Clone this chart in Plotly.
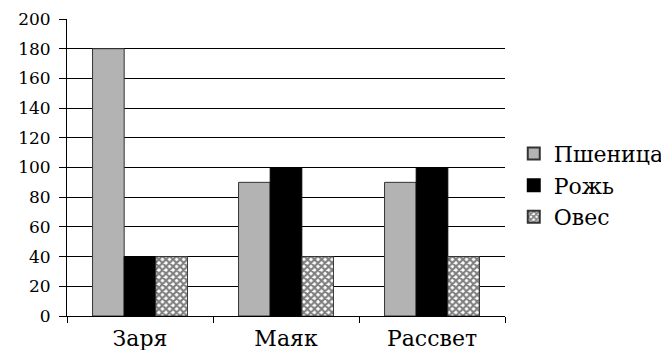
import plotly.graph_objects as go

categories = ["Заря", "Маяк", "Рассвет"]
wheat = [180, 90, 90]
rye = [40, 100, 100]
oats = [40, 40, 40]
series_names = ["Пшеница", "Рожь", "Овес"]
y_ticks = [0, 20, 40, 60, 80, 100, 120, 140, 160, 180, 200]

font_family = "DejaVu Serif"

fig = go.Figure()
fig.add_trace(go.Bar(name=series_names[0], x=categories, y=wheat,
                     marker=dict(color="#b3b3b3", line=dict(color="#333333", width=1))))
fig.add_trace(go.Bar(name=series_names[1], x=categories, y=rye,
                     marker=dict(color="black", line=dict(color="black", width=1))))
fig.add_trace(go.Bar(name=series_names[2], x=categories, y=oats,
                     marker=dict(color="white", line=dict(color="#333333", width=1),
                                 pattern=dict(shape="x", fgcolor="black", bgcolor="white",
                                              size=5, solidity=0.65))))

fig.update_layout(
    width=661, height=342,
    margin=dict(l=59, r=164, t=11, b=34, autoexpand=False),
    paper_bgcolor="white", plot_bgcolor="white",
    barmode="group", bargap=0.35, bargroupgap=0,
    font=dict(family=font_family, color="black"),
    legend=dict(x=1.02, y=0.44, xanchor="left", yanchor="middle",
                font=dict(size=22, family=font_family),
                itemsizing="constant", tracegroupgap=0, itemwidth=30),
    showlegend=True,
)
fig.update_xaxes(
    showline=True, linecolor="black", linewidth=1,
    ticks="outside", tickson="boundaries", ticklen=6, tickcolor="black",
    tickfont=dict(size=22, family=font_family), ticklabelstandoff=3,
    showgrid=False, automargin=False,
)
fig.update_yaxes(
    range=[0, 200], tickvals=y_ticks,
    showline=True, linecolor="black", linewidth=1,
    ticks="outside", ticklen=7, tickcolor="black",
    showgrid=True, gridcolor="black", gridwidth=1,
    tickfont=dict(size=17, family=font_family), ticklabelstandoff=5,
    zeroline=False, automargin=False,
)
fig.write_html("out.html")
